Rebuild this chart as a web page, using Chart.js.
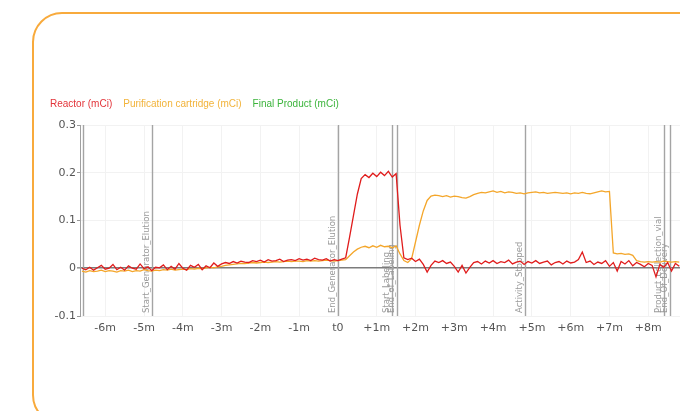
<!DOCTYPE html>
<html>
<head>
<meta charset="utf-8">
<script src="https://cdn.jsdelivr.net/npm/chart.js@4.4.1/dist/chart.umd.min.js"></script>
<style>
  html, body { margin: 0; padding: 0; background: #fff; overflow: hidden; width: 680px; height: 411px; }
  #frame { position: absolute; left: 32px; top: 12px; width: 720px; height: 413px; border: 2px solid #f8aa3c; border-radius: 30px; box-sizing: border-box; }
  #chart { position: absolute; left: 0; top: 0; }
</style>
</head>
<body>
<div id="frame"></div>
<canvas id="chart" width="720" height="411"></canvas>
<script>
// time in minutes relative to t0
const times = [
  -6.6,-6.5,-6.4,-6.3,-6.2,-6.1,-6.0,-5.9,-5.8,-5.7,
  -5.6,-5.5,-5.4,-5.3,-5.2,-5.1,-5.0,-4.9,-4.8,-4.7,
  -4.6,-4.5,-4.4,-4.3,-4.2,-4.1,-4.0,-3.9,-3.8,-3.7,
  -3.6,-3.5,-3.4,-3.3,-3.2,-3.1,-3.0,-2.9,-2.8,-2.7,
  -2.6,-2.5,-2.4,-2.3,-2.2,-2.1,-2.0,-1.9,-1.8,-1.7,
  -1.6,-1.5,-1.4,-1.3,-1.2,-1.1,-1.0,-0.9,-0.8,-0.7,
  -0.6,-0.5,-0.4,-0.3,-0.2,-0.1,0.0,0.1,0.2,0.3,
  0.4,0.5,0.6,0.7,0.8,0.9,1.0,1.1,1.2,1.3,
  1.4,1.5,1.6,1.7,1.8,1.9,2.0,2.1,2.2,2.3,
  2.4,2.5,2.6,2.7,2.8,2.9,3.0,3.1,3.2,3.3,
  3.4,3.5,3.6,3.7,3.8,3.9,4.0,4.1,4.2,4.3,
  4.4,4.5,4.6,4.7,4.8,4.9,5.0,5.1,5.2,5.3,
  5.4,5.5,5.6,5.7,5.8,5.9,6.0,6.1,6.2,6.3,
  6.4,6.5,6.6,6.7,6.8,6.9,7.0,7.1,7.2,7.3,
  7.4,7.5,7.6,7.7,7.8,7.9,8.0,8.1,8.2,8.3,
  8.4,8.5,8.6,8.7,8.8
];

// Reactor (mCi)
const reactor = [
  0.000,-0.003,0.002,-0.004,0.001,0.006,-0.002,0.000,0.008,-0.003,
  0.002,-0.004,0.005,0.000,-0.002,0.009,-0.001,0.003,-0.005,0.002,
  0.001,0.007,-0.003,0.004,-0.002,0.010,0.000,-0.004,0.006,0.002,
  0.008,-0.003,0.005,0.001,0.011,0.004,0.009,0.012,0.010,0.014,
  0.011,0.015,0.013,0.012,0.016,0.014,0.017,0.013,0.018,0.015,
  0.016,0.019,0.014,0.017,0.018,0.016,0.020,0.017,0.019,0.016,
  0.021,0.018,0.017,0.020,0.015,0.018,0.016,0.019,0.022,0.065,
  0.110,0.155,0.188,0.196,0.190,0.199,0.192,0.201,0.194,0.203,
  0.191,0.198,0.090,0.022,0.018,0.021,0.014,0.019,0.008,-0.008,
  0.006,0.015,0.012,0.016,0.010,0.013,0.004,-0.008,0.006,-0.010,
  0.002,0.012,0.014,0.009,0.015,0.011,0.016,0.010,0.014,0.012,
  0.017,0.009,0.013,0.015,0.008,0.014,0.011,0.016,0.010,0.013,
  0.015,0.007,0.012,0.014,0.009,0.015,0.011,0.013,0.018,0.034,
  0.012,0.015,0.008,0.013,0.010,0.016,0.004,0.012,-0.006,0.014,
  0.009,0.016,0.005,0.012,0.008,0.003,0.010,0.006,-0.018,0.008,
  0.002,0.012,-0.006,0.010,0.004
];

// Purification cartridge (mCi)
const cartridge = [
  -0.006,-0.008,-0.005,-0.007,-0.006,-0.004,-0.007,-0.005,-0.006,-0.008,
  -0.005,-0.006,-0.004,-0.007,-0.005,-0.006,-0.003,-0.005,-0.006,-0.004,
  -0.005,-0.003,-0.004,-0.002,-0.004,-0.003,-0.002,-0.003,-0.001,-0.002,
  0.000,-0.001,0.001,0.002,0.001,0.003,0.004,0.006,0.007,0.008,
  0.009,0.010,0.010,0.011,0.012,0.011,0.012,0.013,0.012,0.013,
  0.014,0.013,0.014,0.015,0.014,0.015,0.015,0.014,0.016,0.015,
  0.016,0.015,0.016,0.017,0.016,0.015,0.016,0.017,0.018,0.026,
  0.034,0.040,0.044,0.046,0.043,0.047,0.044,0.048,0.045,0.046,
  0.043,0.047,0.030,0.016,0.012,0.020,0.055,0.090,0.120,0.142,
  0.151,0.153,0.152,0.150,0.152,0.149,0.151,0.150,0.148,0.147,
  0.150,0.154,0.157,0.159,0.158,0.160,0.162,0.159,0.161,0.158,
  0.160,0.159,0.157,0.158,0.156,0.158,0.159,0.160,0.158,0.159,
  0.157,0.158,0.159,0.158,0.157,0.158,0.156,0.158,0.157,0.159,
  0.157,0.156,0.158,0.160,0.162,0.160,0.161,0.032,0.030,0.031,
  0.029,0.030,0.027,0.016,0.014,0.013,0.014,0.013,0.014,0.013,
  0.015,0.014,0.013,0.014,0.013
];

// Final Product (mCi) - nothing recorded in this window
const finalProduct = [];

const xTickValues = [-6,-5,-4,-3,-2,-1,0,1,2,3,4,5,6,7,8];
const xTickLabels = ['-6m','-5m','-4m','-3m','-2m','-1m','t0','+1m','+2m','+3m','+4m','+5m','+6m','+7m','+8m'];
const yTickValues = [-0.1,0,0.1,0.2,0.3];
const yTickLabels = ['-0.1','0','0.1','0.2','0.3'];

// process events (vertical markers)
const eventTimes = [-6.58,-4.8,0,1.39,1.52,4.82,8.4,8.55];
const eventLabels = ['','Start_Generator_Elution','End_Generator_Elution','Start_Labeling','End_of_Labeling','Activity_Stopped','Product_collection_vial','End_Of_Delivery'];

// vertical event lines + rotated labels
const eventPlugin = {
  id: 'events',
  beforeDatasetsDraw(chart) {
    const ctx = chart.ctx, area = chart.chartArea, xs = chart.scales.x;
    ctx.save();
    eventTimes.forEach((t, i) => {
      const px = Math.round(xs.getPixelForValue(t)) + 0.5;
      ctx.strokeStyle = '#a4a4a4';
      ctx.lineWidth = 1.4;
      ctx.beginPath();
      ctx.moveTo(px, area.top);
      ctx.lineTo(px, area.bottom);
      ctx.stroke();
      if (eventLabels[i]) {
        ctx.save();
        ctx.translate(px - 4, area.bottom - 3);
        ctx.rotate(-Math.PI / 2);
        ctx.fillStyle = '#9a9a9a';
        ctx.font = '8.5px "DejaVu Sans"';
        ctx.textAlign = 'left';
        ctx.textBaseline = 'alphabetic';
        ctx.fillText(eventLabels[i], 0, 0);
        ctx.restore();
      }
    });
    ctx.restore();
  }
};

// coloured text legend, no swatches
const textLegend = {
  id: 'textLegend',
  afterDraw(chart) {
    const ctx = chart.ctx;
    ctx.save();
    ctx.font = '10px "Liberation Sans"';
    ctx.textBaseline = 'alphabetic';
    let x = 50;
    chart.data.datasets.forEach(ds => {
      ctx.fillStyle = ds.legendColor;
      ctx.fillText(ds.label, x, 107);
      x += ctx.measureText(ds.label).width + 11;
    });
    ctx.restore();
  }
};

new Chart(document.getElementById('chart'), {
  type: 'line',
  data: {
    labels: times,
    datasets: [{
      label: 'Reactor (mCi)',
      data: reactor,
      borderColor: '#e01c1c',
      legendColor: '#e3343a',
      borderWidth: 1.3,
      pointRadius: 0,
      tension: 0
    }, {
      label: 'Purification cartridge (mCi)',
      data: cartridge,
      borderColor: '#f4a62a',
      legendColor: '#f2b33a',
      borderWidth: 1.3,
      pointRadius: 0,
      tension: 0
    }, {
      label: 'Final Product (mCi)',
      data: finalProduct,
      borderColor: '#3cb43c',
      legendColor: '#3cb43c',
      borderWidth: 1.3,
      pointRadius: 0
    }]
  },
  options: {
    responsive: false,
    animation: false,
    layout: { padding: { top: 125, left: 0, right: 0, bottom: 0 } },
    plugins: {
      legend: { display: false },
      tooltip: { enabled: false }
    },
    scales: {
      x: {
        type: 'linear',
        min: -6.65,
        max: 9.85,
        afterBuildTicks: s => { s.ticks = xTickValues.map(v => ({ value: v })); },
        afterFit: s => { s.height = 95; },
        ticks: {
          color: '#555',
          font: { family: 'DejaVu Sans', size: 11 },
          padding: 6,
          maxRotation: 0,
          autoSkip: false,
          callback: (v, i) => xTickLabels[i]
        },
        grid: { color: '#f2f2f2', drawTicks: false },
        border: { display: false }
      },
      y: {
        min: -0.1,
        max: 0.3,
        afterBuildTicks: s => { s.ticks = yTickValues.map(v => ({ value: v })); },
        afterFit: s => { s.width = 80; },
        ticks: {
          color: '#555',
          font: { family: 'DejaVu Sans', size: 11 },
          padding: 1,
          callback: (v, i) => yTickLabels[i]
        },
        grid: {
          color: c => (c.tick && c.tick.value === 0) ? '#7c7c7c' : '#f2f2f2',
          lineWidth: c => (c.tick && c.tick.value === 0) ? 1.6 : 1,
          tickColor: '#999',
          tickLength: 3
        },
        border: { display: true, color: '#a0a0a0', width: 1 }
      }
    }
  },
  plugins: [eventPlugin, textLegend]
});
</script>
</body>
</html>
